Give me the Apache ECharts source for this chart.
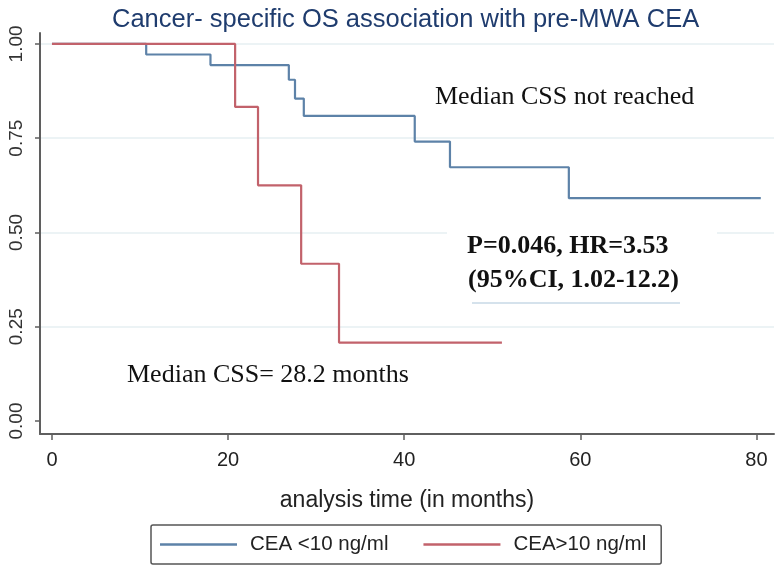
<!DOCTYPE html>
<html>
<head>
<meta charset="utf-8">
<script src="https://cdn.jsdelivr.net/npm/echarts@6/dist/echarts.min.js"></script>
<style>html,body{margin:0;padding:0;background:#fff}#chart{width:780px;height:569px}</style>
</head>
<body>
<div id="chart"></div>
<script>
// Kaplan-Meier step data
var lowTimes = [0, 10.7, 18.0, 26.9, 27.6, 28.6, 41.2, 45.2, 58.7, 80.5];
var lowSurv  = [1.0, 0.972, 0.944, 0.905, 0.855, 0.809, 0.741, 0.673, 0.591, 0.591];
var highTimes = [0, 20.8, 23.4, 28.3, 32.6, 51.1];
var highSurv  = [1.0, 0.833, 0.625, 0.417, 0.208, 0.208];
var xTicks = [0, 20, 40, 60, 80];
var yTicks = [0, 0.25, 0.5, 0.75, 1.0];
var seriesNames = ['CEA <10 ng/ml', 'CEA>10 ng/ml'];

function pairs(t, s) { return t.map(function (v, i) { return [v, s[i]]; }); }

var chart = echarts.init(document.getElementById('chart'), null, {renderer: 'canvas'});
var axisCol = '#5f5f5f';
var option = {
  backgroundColor: '#ffffff',
  animation: false,
  title: {
    text: 'Cancer- specific OS association with pre-MWA CEA',
    left: 107, top: 2,
    textStyle: {fontFamily: 'Liberation Sans, Arial', fontSize: 25.5, fontWeight: 'normal', color: '#1f3c6e'}
  },
  grid: {left: 40, right: 6, top: 33, bottom: 135, containLabel: false},
  xAxis: {
    type: 'value', min: -1.36, max: 82,
    name: 'analysis time (in months)', nameLocation: 'middle', nameGap: 55,
    nameTextStyle: {fontFamily: 'Liberation Sans, Arial', fontSize: 23, color: '#222'},
    axisLine: {show: true, onZero: false, lineStyle: {color: axisCol, width: 2}},
    axisTick: {show: true, length: 6, customValues: xTicks, lineStyle: {color: axisCol, width: 1.5}},
    axisLabel: {customValues: xTicks, margin: 16, fontFamily: 'Liberation Sans, Arial', fontSize: 20, color: '#222'},
    splitLine: {show: false}
  },
  yAxis: {
    type: 'value', min: -0.0345, max: 1.029,
    axisLine: {show: true, onZero: false, lineStyle: {color: axisCol, width: 2}},
    axisTick: {show: true, length: 5, customValues: yTicks, lineStyle: {color: axisCol, width: 1.5}},
    axisLabel: {customValues: yTicks, rotate: 90, margin: 14, fontFamily: 'Liberation Sans, Arial', fontSize: 19, color: '#333',
      formatter: function (v) { return v.toFixed(2); }},
    splitLine: {show: false}
  },
  legend: {
    data: seriesNames,
    left: 151, top: 525,
    orient: 'horizontal',
    padding: [9, 15, 9, 9],
    itemWidth: 77, itemHeight: 14, itemGap: 35,
    borderColor: '#555', borderWidth: 1.5, borderRadius: 2,
    icon: 'path://M0,6 L77,6 L77,8.5 L0,8.5 Z',
    textStyle: {fontFamily: 'Liberation Sans, Arial', fontSize: 20.5, color: '#222', padding: [0, 0, 0, 8]}
  },
  series: [
    {
      name: seriesNames[0], type: 'line', step: 'end', showSymbol: false, symbol: 'none',
      data: pairs(lowTimes, lowSurv),
      lineStyle: {color: '#5d82a8', width: 2.2}, itemStyle: {color: '#5d82a8'},
      markLine: {
        silent: true, symbol: 'none', label: {show: false}, z: 0,
        lineStyle: {color: '#e6eff2', width: 1.5, type: 'solid'},
        data: yTicks.filter(function (v) { return v > 0; }).map(function (v) { return {yAxis: v}; })
      },
      z: 3
    },
    {
      name: seriesNames[1], type: 'line', step: 'end', showSymbol: false, symbol: 'none',
      data: pairs(highTimes, highSurv),
      lineStyle: {color: '#c2626b', width: 2.2}, itemStyle: {color: '#c2626b'},
      z: 4
    }
  ],
  graphic: [
    {type: 'text', left: 435, top: 84, z: 50,
      style: {text: 'Median CSS not reached', font: '26px "Liberation Serif", "Times New Roman", serif', fill: '#111'}},
    {type: 'rect', left: 447, top: 226, z: 50, shape: {width: 270, height: 76}, style: {fill: '#ffffff'}},
    {type: 'line', z: 51, shape: {x1: 472, y1: 303, x2: 680, y2: 303}, style: {stroke: '#d5e2ec', lineWidth: 2}},
    {type: 'text', left: 467, top: 233, z: 52,
      style: {text: 'P=0.046, HR=3.53', font: 'bold 26px "Liberation Serif", "Times New Roman", serif', fill: '#111'}},
    {type: 'text', left: 468, top: 267, z: 52,
      style: {text: '(95%CI, 1.02-12.2)', font: 'bold 26px "Liberation Serif", "Times New Roman", serif', fill: '#111'}},
    {type: 'text', left: 127, top: 362, z: 50,
      style: {text: 'Median CSS= 28.2 months', font: '26px "Liberation Serif", "Times New Roman", serif', fill: '#111'}}
  ]
};
chart.setOption(option);
</script>
</body>
</html>
